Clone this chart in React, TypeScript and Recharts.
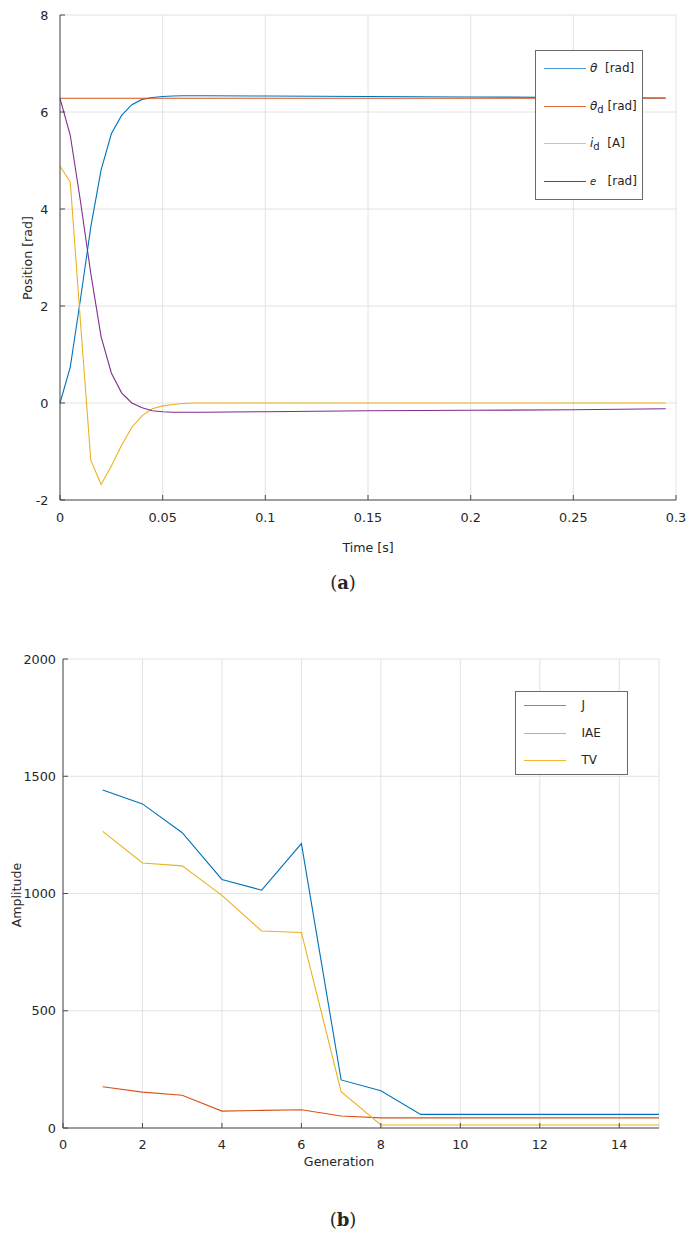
import React from "react";
import { LineChart, Line, XAxis, YAxis, CartesianGrid } from "recharts";

// (a) time response
const timeS = [0, 0.005, 0.01, 0.015, 0.02, 0.025, 0.03, 0.035, 0.04, 0.045, 0.05, 0.055, 0.06, 0.065, 0.07, 0.1, 0.15, 0.2, 0.25, 0.295];
const theta = [0, 0.74, 2.15, 3.63, 4.8, 5.55, 5.93, 6.15, 6.26, 6.3, 6.32, 6.33, 6.335, 6.335, 6.335, 6.33, 6.32, 6.31, 6.3, 6.29];
const thetaD = [6.283, 6.283, 6.283, 6.283, 6.283, 6.283, 6.283, 6.283, 6.283, 6.283, 6.283, 6.283, 6.283, 6.283, 6.283, 6.283, 6.283, 6.283, 6.283, 6.283];
const iD = [4.88, 4.56, 1.65, -1.18, -1.68, -1.3, -0.87, -0.5, -0.26, -0.12, -0.06, -0.03, -0.01, 0, 0, 0, 0, 0, 0, 0];
const errE = [6.28, 5.52, 4.15, 2.67, 1.37, 0.62, 0.21, 0.0, -0.1, -0.16, -0.18, -0.19, -0.19, -0.19, -0.19, -0.18, -0.16, -0.15, -0.14, -0.12];
const ticksA_x = [0, 0.05, 0.1, 0.15, 0.2, 0.25, 0.3];
const ticksA_y = [-2, 0, 2, 4, 6, 8];

// (b) per generation
const generation = [1, 2, 3, 4, 5, 6, 7, 8, 9, 10, 11, 12, 13, 14, 15];
const costJ = [1441, 1382, 1259, 1060, 1014, 1213, 205, 159, 58, 58, 58, 58, 58, 58, 58];
const costIAE = [176, 153, 140, 72, 75, 78, 51, 43, 43, 43, 43, 43, 43, 43, 43];
const costTV = [1265, 1130, 1118, 992, 840, 834, 155, 13, 13, 13, 13, 13, 13, 13, 13];
const ticksB_x = [0, 2, 4, 6, 8, 10, 12, 14];
const ticksB_y = [0, 500, 1000, 1500, 2000];

const BLUE = "#0072BD";
const ORANGE = "#D95319";
const YELLOW = "#EDB120";
const PURPLE = "#7E2F8E";

const FONT = "'DejaVu Sans', Verdana, sans-serif";
const SERIF = "'DejaVu Serif', serif";
const AXIS = "#4a4a4a";
const GRID = "#e2e2e2";
const tickStyle = { fill: "#262626", fontSize: 12.8, fontFamily: FONT };

const dataA = timeS.map((t, i) => ({ t, theta: theta[i], thetaD: thetaD[i], iD: iD[i], e: errE[i] }));
const dataB = generation.map((g, i) => ({ g, J: costJ[i], IAE: costIAE[i], TV: costTV[i] }));

const NoTick = () => <g />;

const abs = (left: number, top: number, extra: React.CSSProperties = {}): React.CSSProperties => ({
  position: "absolute",
  left,
  top,
  fontFamily: FONT,
  color: "#262626",
  whiteSpace: "pre",
  ...extra,
});

function LegendRow({ y, x0, color, children }: { y: number; x0: number; color: string; children: React.ReactNode }) {
  return (
    <>
      <div style={{ position: "absolute", left: x0, top: y, width: 42, height: 1, background: color }} />
      <div style={abs(x0 + 46, y - 8, { fontSize: 12, lineHeight: "16px" })}>{children}</div>
    </>
  );
}

export default function App() {
  return (
    <div style={{ position: "absolute", left: 0, top: 0, width: 696, height: 1238, background: "#fff" }}>
      {/* chart (a) */}
      <div style={{ position: "absolute", left: 0, top: 0 }}>
        <LineChart width={696} height={530} data={dataA} margin={{ top: 15, right: 20, bottom: 0, left: 0 }}>
          <CartesianGrid stroke={GRID} />
          <XAxis dataKey="t" type="number" domain={[0, 0.3]} ticks={ticksA_x} interval={0} height={30}
            stroke={AXIS} tickSize={-5} tickMargin={18} tick={tickStyle} />
          <XAxis xAxisId="top" dataKey="t" type="number" domain={[0, 0.3]} ticks={ticksA_x} interval={0}
            orientation="top" height={0} stroke={AXIS} tickSize={-5} tick={NoTick} />
          <YAxis type="number" domain={[-2, 8]} ticks={ticksA_y} interval={0} width={60}
            stroke={AXIS} tickSize={-5} tickMargin={16.5} tick={tickStyle} />
          <YAxis yAxisId="right" type="number" domain={[-2, 8]} ticks={ticksA_y} interval={0}
            orientation="right" width={0} stroke={AXIS} tickSize={-5} tick={NoTick} />
          <Line dataKey="theta" stroke={BLUE} strokeWidth={1.1} dot={false} isAnimationActive={false} />
          <Line dataKey="thetaD" stroke={ORANGE} strokeWidth={1.1} dot={false} isAnimationActive={false} />
          <Line dataKey="iD" stroke={YELLOW} strokeWidth={1.1} dot={false} isAnimationActive={false} />
          <Line dataKey="e" stroke={PURPLE} strokeWidth={1.1} dot={false} isAnimationActive={false} />
        </LineChart>
      </div>
      <div style={abs(27, 258, { fontSize: 12.6, transform: "translate(-50%, -50%) rotate(-90deg)" })}>Position [rad]</div>
      <div style={abs(368, 547, { fontSize: 12.6, transform: "translate(-50%, -50%)" })}>Time [s]</div>
      <div style={{ position: "absolute", left: 535, top: 50, width: 106, height: 148, border: "1px solid #6a6a6a", background: "#fff" }} />
      <LegendRow y={68} x0={544} color="#4a9ad6"><i>θ</i>{"  [rad]"}</LegendRow>
      <LegendRow y={106} x0={544} color="#df6a3a"><i>θ</i><sub style={{ fontSize: 10 }}>d</sub>{" [rad]"}</LegendRow>
      <LegendRow y={143} x0={544} color="#f2c255"><i>i</i><sub style={{ fontSize: 10 }}>d</sub>{"  [A]"}</LegendRow>
      <LegendRow y={181} x0={544} color={PURPLE}><i style={{ fontSize: 10 }}>e</i>{"   [rad]"}</LegendRow>
      <div style={abs(343, 582, { fontSize: 18, fontFamily: SERIF, transform: "translate(-50%, -50%)" })}>
        (<b>a</b>)
      </div>

      {/* chart (b) */}
      <div style={{ position: "absolute", left: 0, top: 640 }}>
        <LineChart width={696} height={520} data={dataB} margin={{ top: 19, right: 37, bottom: 0, left: 0 }}>
          <CartesianGrid stroke={GRID} />
          <XAxis dataKey="g" type="number" domain={[0, 15]} ticks={ticksB_x} interval={0} height={32}
            stroke={AXIS} tickSize={-5} tickMargin={17} tick={tickStyle} />
          <XAxis xAxisId="top" dataKey="g" type="number" domain={[0, 15]} ticks={ticksB_x} interval={0}
            orientation="top" height={0} stroke={AXIS} tickSize={-5} tick={NoTick} />
          <YAxis type="number" domain={[0, 2000]} ticks={ticksB_y} interval={0} width={63}
            stroke={AXIS} tickSize={-5} tickMargin={12} tick={tickStyle} />
          <YAxis yAxisId="right" type="number" domain={[0, 2000]} ticks={ticksB_y} interval={0}
            orientation="right" width={0} stroke={AXIS} tickSize={-5} tick={NoTick} />
          <Line dataKey="J" stroke={BLUE} strokeWidth={1.1} dot={false} isAnimationActive={false} />
          <Line dataKey="IAE" stroke={ORANGE} strokeWidth={1.1} dot={false} isAnimationActive={false} />
          <Line dataKey="TV" stroke={YELLOW} strokeWidth={1.1} dot={false} isAnimationActive={false} />
        </LineChart>
      </div>
      <div style={abs(16, 895, { fontSize: 12.6, transform: "translate(-50%, -50%) rotate(-90deg)" })}>Amplitude</div>
      <div style={abs(339, 1161, { fontSize: 12.6, transform: "translate(-50%, -50%)" })}>Generation</div>
      <div style={{ position: "absolute", left: 515, top: 691, width: 111, height: 82, border: "1px solid #6a6a6a", background: "#fff" }} />
      <LegendRow y={705} x0={524} color="#4a9ad6">{"   J"}</LegendRow>
      <LegendRow y={733} x0={524} color="#ec9d7e">{"   IAE"}</LegendRow>
      <LegendRow y={760} x0={524} color="#f5b530">{"   TV"}</LegendRow>
      <div style={abs(343, 1219, { fontSize: 18, fontFamily: SERIF, transform: "translate(-50%, -50%)" })}>
        (<b>b</b>)
      </div>
    </div>
  );
}
